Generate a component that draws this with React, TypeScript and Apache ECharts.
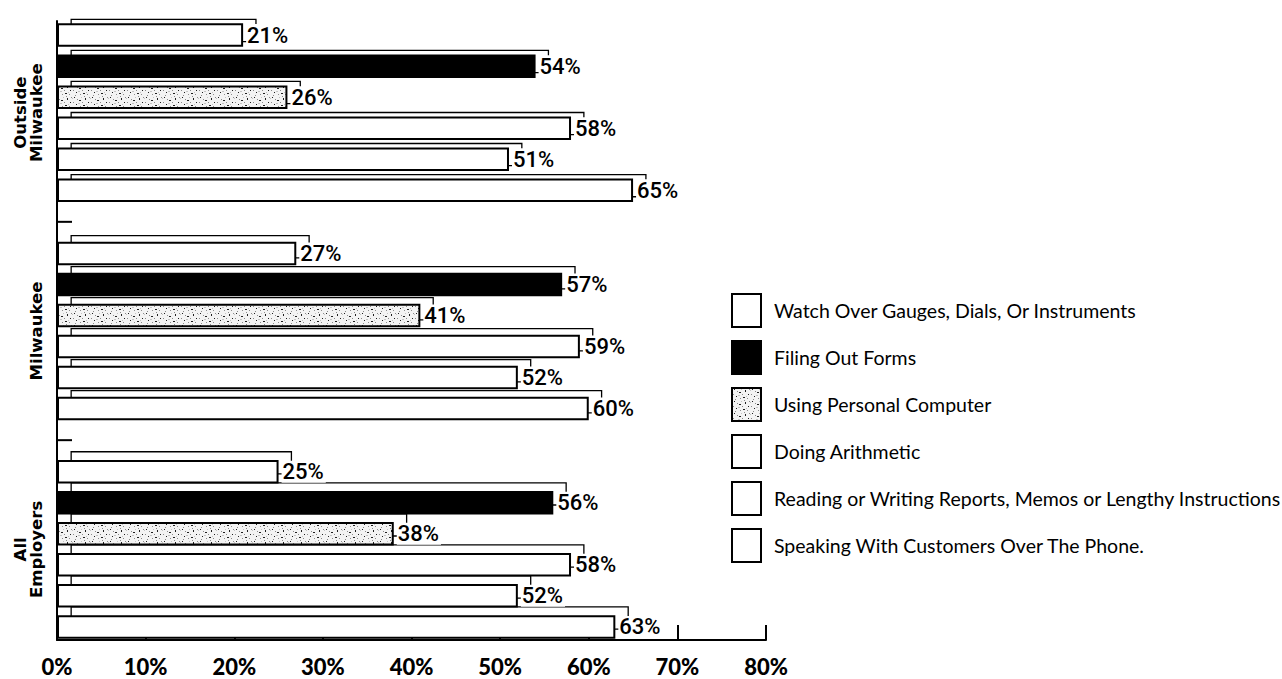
import { useEffect, useRef } from 'react';
import * as echarts from 'echarts';

// Survey groups, top to bottom
const categories = ['Outside\nMilwaukee', 'Milwaukee', 'All\nEmployers'];

// Task names, in the order the bars are stacked inside each group
const taskNames = [
  'Watch Over Gauges, Dials, Or Instruments',
  'Filing Out Forms',
  'Using Personal Computer',
  'Doing Arithmetic',
  'Reading or Writing Reports, Memos or Lengthy Instructions',
  'Speaking With Customers Over The Phone.',
];

// Percent of employers, per group (Outside Milwaukee, Milwaukee, All Employers)
const watchGauges = [21, 27, 25];
const fillingForms = [54, 57, 56];
const personalComputer = [26, 41, 38];
const doingArithmetic = [58, 59, 58];
const readingWriting = [51, 52, 52];
const speakingPhone = [65, 60, 63];

// Value axis range
const xMin = 0;
const xMax = 80;
const xStep = 10;

const taskValues = [watchGauges, fillingForms, personalComputer, doingArithmetic, readingWriting, speakingPhone];

// Sparse stipple tile used for the personal-computer bars
const speckleSvg =
  "<svg xmlns='http://www.w3.org/2000/svg' width='18' height='12'>" +
  "<rect width='18' height='12' fill='#f3f3f3'/>" +
  "<g fill='#1e1e1e'>" +
  "<rect x='2' y='1' width='1' height='1'/><rect x='7' y='4' width='2' height='1'/>" +
  "<rect x='13' y='2' width='1' height='2'/><rect x='4' y='8' width='1' height='1'/>" +
  "<rect x='11' y='9' width='2' height='1'/><rect x='16' y='6' width='1' height='1'/>" +
  "</g><g fill='#8c8c8c'>" +
  "<rect x='5' y='3' width='1' height='1'/><rect x='10' y='6' width='1' height='1'/>" +
  "<rect x='15' y='10' width='1' height='1'/><rect x='1' y='6' width='1' height='1'/>" +
  "<rect x='8' y='10' width='1' height='1'/><rect x='17' y='1' width='1' height='1'/>" +
  "<rect x='12' y='0' width='1' height='1'/><rect x='3' y='11' width='1' height='1'/>" +
  "</g><g fill='#c4c4c4'>" +
  "<rect x='6' y='7' width='2' height='1'/><rect x='14' y='8' width='1' height='1'/>" +
  "<rect x='0' y='2' width='1' height='1'/><rect x='9' y='1' width='1' height='1'/>" +
  "</g></svg>";
const specklePattern = {
  image: 'data:image/svg+xml;utf8,' + encodeURIComponent(speckleSvg),
  repeat: 'repeat',
};

const fills: any[] = ['#ffffff', '#000000', specklePattern, '#ffffff', '#ffffff', '#ffffff'];

const BAR_WIDTH = 23.5;
const BAR_GAP = '32%';
const PLOT_LEFT = 57;
const PLOT_WIDTH = 709;
const DEPTH_DX = 13.5;
const DEPTH_DY = -10;

export default function App() {
  const ref = useRef<HTMLDivElement>(null);

  useEffect(() => {
    if (!ref.current) return;
    const chart = echarts.init(ref.current, undefined, { renderer: 'svg' });

    const frontSeries = taskNames.map((name, i) => ({
      type: 'bar',
      name,
      data: taskValues[i],
      xAxisIndex: 0,
      yAxisIndex: 0,
      barWidth: BAR_WIDTH,
      barGap: BAR_GAP,
      z: 3,
      silent: true,
      itemStyle: { color: fills[i], borderColor: '#000', borderWidth: 2 },
      label: {
        show: true,
        position: 'right',
        distance: 3,
        formatter: '{c}%',
        fontFamily: 'Roboto, sans-serif',
        fontWeight: 500,
        fontSize: 22,
        color: '#000',
        backgroundColor: '#fff',
        padding: [0, 2, 0, 1],
      },
      emphasis: { disabled: true },
    }));

    // Back faces of the bars, drawn as outlines in an offset grid
    const depthSeries = taskNames.map((name, i) => ({
      type: 'bar',
      name: 'depth-' + i,
      data: taskValues[i],
      xAxisIndex: 2,
      yAxisIndex: 2,
      barWidth: BAR_WIDTH,
      barGap: BAR_GAP,
      z: 1,
      silent: true,
      itemStyle: { color: 'rgba(0,0,0,0)', borderColor: '#000', borderWidth: 1.3 },
      emphasis: { disabled: true },
    }));

    chart.setOption({
      animation: false,
      backgroundColor: '#ffffff',
      grid: [
        { left: PLOT_LEFT, width: PLOT_WIDTH, top: 3.5, height: 655 },
        { left: PLOT_LEFT, width: PLOT_WIDTH, top: 21, height: 619 },
        { left: PLOT_LEFT + DEPTH_DX, width: PLOT_WIDTH, top: 3.5 + DEPTH_DY, height: 655 },
      ],
      xAxis: [
        { gridIndex: 0, type: 'value', min: xMin, max: xMax, interval: xStep, show: false },
        {
          gridIndex: 1,
          type: 'value',
          min: xMin,
          max: xMax,
          interval: xStep,
          axisLine: { show: true, lineStyle: { color: '#000', width: 2 } },
          axisTick: { show: true, inside: true, length: 15, lineStyle: { color: '#000', width: 2 } },
          axisLabel: {
            formatter: '{value}%',
            fontFamily: 'Lato, sans-serif',
            fontWeight: 900,
            fontSize: 22,
            color: '#000',
            margin: 15,
          },
          splitLine: { show: false },
        },
        { gridIndex: 2, type: 'value', min: xMin, max: xMax, interval: xStep, show: false },
      ],
      yAxis: [
        {
          gridIndex: 0,
          type: 'category',
          data: categories,
          inverse: true,
          axisLine: { show: false },
          axisTick: { show: false },
          splitLine: { show: false },
          axisLabel: {
            rotate: 90,
            margin: 13,
            fontFamily: "'DejaVu Sans', sans-serif",
            fontWeight: 'bold',
            fontSize: 16.5,
            lineHeight: 16,
            color: '#000',
          },
        },
        {
          gridIndex: 1,
          type: 'value',
          min: 0,
          max: 1,
          axisLine: { show: true, lineStyle: { color: '#000', width: 2 } },
          axisTick: { show: false },
          axisLabel: { show: false },
          splitLine: { show: false },
        },
        { gridIndex: 2, type: 'category', data: categories, inverse: true, show: false },
      ],
      legend: {
        data: taskNames,
        orient: 'vertical',
        left: 726,
        top: 288,
        itemWidth: 29,
        itemHeight: 33,
        itemGap: 12,
        icon: 'rect',
        selectedMode: false,
        textStyle: {
          fontFamily: 'Lato, sans-serif',
          fontSize: 19.5,
          color: '#000',
          padding: [0, 0, 0, 8],
        },
      },
      series: [...depthSeries, ...frontSeries],
    });

    // Short inward ticks on the left axis at the boundaries between groups
    const centers = categories.map((_, i) => chart.convertToPixel({ yAxisIndex: 0 }, i) as number);
    const x0 = chart.convertToPixel({ xAxisIndex: 0 }, xMin) as number;
    const stubs = centers.slice(1).map((c, i) => {
      const y = (centers[i] + c) / 2;
      return {
        type: 'line',
        silent: true,
        shape: { x1: x0, y1: y, x2: x0 + 15, y2: y },
        style: { stroke: '#000', lineWidth: 2 },
      };
    });
    chart.setOption({ graphic: stubs });

    return () => chart.dispose();
  }, []);

  return (
    <div
      ref={ref}
      style={{ position: 'fixed', left: 0, top: 0, width: 1282, height: 679, background: '#fff' }}
    />
  );
}
